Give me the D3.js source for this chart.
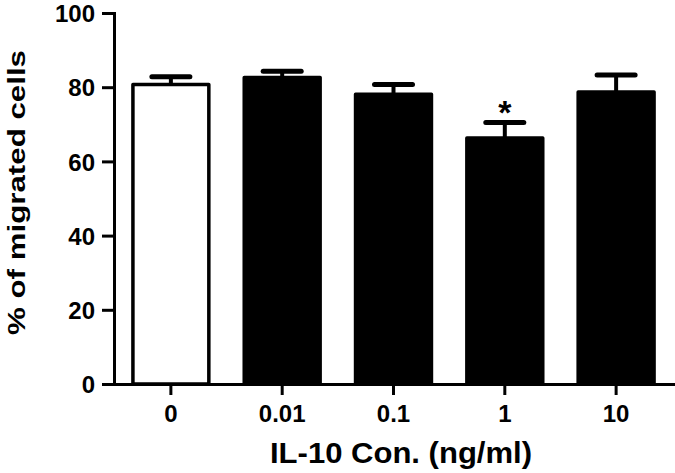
<!DOCTYPE html>
<html>
<head>
<meta charset="utf-8">
<script src="https://cdn.jsdelivr.net/npm/d3@7"></script>
<style>
  html, body { margin: 0; padding: 0; background: #fff; }
  svg { display: block; }
  text { font-family: "Liberation Sans", Arial, sans-serif; font-weight: bold; fill: #000; }
</style>
</head>
<body>
<svg id="chart" width="675" height="473"></svg>
<script>
const categories = ["0", "0.01", "0.1", "1", "10"];
const means = [80.7, 82.6, 78.1, 66.3, 78.7];
const sems = [2.1, 1.7, 2.6, 4.2, 4.6];
const fills = ["#ffffff", "#000000", "#000000", "#000000", "#000000"];
const significance = ["", "", "", "*", ""];
const yTicks = [0, 20, 40, 60, 80, 100];
const xTitle = "IL-10 Con. (ng/ml)";
const yTitle = "% of migrated cells";

const svg = d3.select("#chart");
const mLeft = 114, mRight = 673, mTop = 13, mBottom = 384;

const x = d3.scaleBand().domain(categories).range([mLeft, mRight])
  .paddingInner(0.318).paddingOuter(0.17);
const y = d3.scaleLinear().domain([0, 100]).range([mBottom, mTop]);

const data = categories.map((c, i) => ({ c, m: means[i], e: sems[i], f: fills[i], s: significance[i] }));

// bars
svg.append("g").selectAll("rect").data(data).join("rect")
  .attr("x", d => x(d.c))
  .attr("y", d => y(d.m))
  .attr("width", x.bandwidth())
  .attr("height", d => y(0) - y(d.m))
  .attr("fill", d => d.f)
  .attr("stroke", "#000")
  .attr("stroke-width", 3.5)
  .attr("stroke-linejoin", "round");

// error bars (upper only)
const eb = svg.append("g").selectAll("g").data(data).join("g");
eb.append("line")
  .attr("x1", d => x(d.c) + x.bandwidth() / 2)
  .attr("x2", d => x(d.c) + x.bandwidth() / 2)
  .attr("y1", d => y(d.m))
  .attr("y2", d => y(d.m + d.e))
  .attr("stroke", "#000").attr("stroke-width", 4);
eb.append("line")
  .attr("x1", d => x(d.c) + x.bandwidth() / 2 - 19)
  .attr("x2", d => x(d.c) + x.bandwidth() / 2 + 19)
  .attr("y1", d => y(d.m + d.e))
  .attr("y2", d => y(d.m + d.e))
  .attr("stroke", "#000").attr("stroke-width", 5).attr("stroke-linecap", "round");

// significance
svg.append("g").selectAll("text").data(data.filter(d => d.s)).join("text")
  .attr("x", d => x(d.c) + x.bandwidth() / 2)
  .attr("y", d => y(d.m + d.e) - 18 + 0.57 * 34)
  .attr("text-anchor", "middle")
  .style("font-size", "34px")
  .text(d => d.s);

// y axis
const yAxis = svg.append("g").attr("transform", `translate(${mLeft},0)`)
  .call(d3.axisLeft(y).tickValues(yTicks).tickSize(12).tickSizeOuter(0).tickPadding(7));
yAxis.select(".domain").attr("stroke-width", 3).attr("stroke-linecap", "square");
yAxis.selectAll(".tick line").attr("stroke-width", 3);
yAxis.selectAll(".tick text").style("font-size", "24px").attr("dy", "0.36em")
  .style("font-family", "'Liberation Sans', Arial, sans-serif").style("font-weight", "bold");

// x axis
const xAxis = svg.append("g").attr("transform", `translate(0,${mBottom})`)
  .call(d3.axisBottom(x).tickSize(11).tickSizeOuter(0).tickPadding(10));
xAxis.select(".domain").attr("stroke-width", 3).attr("stroke-linecap", "square");
xAxis.selectAll(".tick line").attr("stroke-width", 3);
xAxis.selectAll(".tick text").style("font-size", "24px")
  .style("font-family", "'Liberation Sans', Arial, sans-serif").style("font-weight", "bold");

// titles
svg.append("text")
  .attr("x", 401).attr("y", 463)
  .attr("text-anchor", "middle")
  .attr("textLength", 262).attr("lengthAdjust", "spacingAndGlyphs")
  .style("font-size", "29px")
  .text(xTitle);

svg.append("text")
  .attr("transform", "translate(25,192.5) rotate(-90)")
  .attr("text-anchor", "middle")
  .attr("textLength", 285).attr("lengthAdjust", "spacingAndGlyphs")
  .style("font-size", "24px")
  .text(yTitle);
</script>
</body>
</html>
